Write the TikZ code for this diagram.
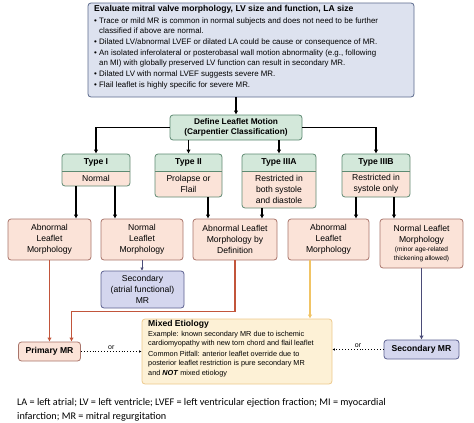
\documentclass[tikz,border=0pt]{standalone}
\usepackage{fontspec}
\usepackage{xcolor}
\usepackage{tikz}
\setmainfont{Liberation Sans}
\newfontfamily\footfont{Carlito}
\usetikzlibrary{arrows.meta}

\definecolor{evalfill}{HTML}{DDE2EF}
\definecolor{evalline}{HTML}{5B6A8C}
\definecolor{greenfill}{HTML}{D3E8DA}
\definecolor{greenline}{HTML}{5E8A72}
\definecolor{pinkfill}{HTML}{FBE3D8}
\definecolor{pinkline}{HTML}{A8746A}
\definecolor{lavfill}{HTML}{D4D6EE}
\definecolor{lavline}{HTML}{5C6090}
\definecolor{mixfill}{HTML}{FDF1D6}
\definecolor{mixline}{HTML}{EDC98C}
\definecolor{redline}{HTML}{C2553B}
\definecolor{goldline}{HTML}{F1C465}
\definecolor{navyline}{HTML}{4B4C78}

\tikzset{
  box/.style={rounded corners=3pt, line width=0.8pt, inner sep=0pt, align=center},
  evalbox/.style={box, draw=evalline, fill=evalfill},
  motionbox/.style={box, draw=greenline, fill=greenfill},
  typebox/.style={box, draw=greenline, fill=pinkfill,
    path picture={
      \fill[greenfill] (path picture bounding box.north west) rectangle ([yshift=-17pt]path picture bounding box.north east);
      \draw[greenline, line width=0.8pt] ([yshift=-17pt]path picture bounding box.north west) -- ([yshift=-17pt]path picture bounding box.north east);
    }},
  typehead/.style={inner sep=0pt, font=\bfseries\fontsize{8.6}{11}\selectfont},
  typebody/.style={inner sep=0pt, align=center},
  morphbox/.style={box, draw=pinkline, fill=pinkfill},
  secbox/.style={box, draw=lavline, fill=lavfill},
  mixbox/.style={box, draw=mixline, fill=mixfill},
  blk/.style={line width=1.6pt, -{Latex[length=4pt, width=4.5pt]}},
  redarr/.style={draw=redline, line width=1.6pt, -{Latex[length=4pt, width=4.5pt]}},
  goldarr/.style={draw=goldline, line width=1.6pt, -{Latex[length=4pt, width=4.5pt]}},
  navyarr/.style={draw=navyline, line width=1.6pt, -{Latex[length=4pt, width=4.5pt]}},
  navythin/.style={draw=navyline, line width=0.8pt, -{Latex[length=3pt, width=3.5pt]}},
  orarr/.style={dotted, line width=0.9pt, -{Latex[length=2.5pt, width=2.5pt]}},
  orlabel/.style={above, inner sep=1.5pt, font=\fontsize{7}{8}\selectfont}
}

\begin{document}
\begin{tikzpicture}[x=1pt, y=-1pt, font=\fontsize{8.6}{11}\selectfont]
\useasboundingbox (0,0) rectangle (474,423);

\node[evalbox, minimum width=326pt, minimum height=94pt] (eval) at (251,50) {};
\node[anchor=north west, inner sep=0pt, align=left, font=\fontsize{7.9}{9.8}\selectfont] (evaltext) at (94,5.5) {%
{\bfseries\fontsize{8.6}{10}\selectfont Evaluate mitral valve morphology, LV size and function, LA size}\\[2pt]
• Trace or mild MR is common in normal subjects and does not need to be further\\
\phantom{• }classified if above are normal.\\[1.2pt]
• Dilated LV/abnormal LVEF or dilated LA could be cause or consequence of MR.\\[1.2pt]
• An isolated inferolateral or posterobasal wall motion abnormality (e.g., following\\
\phantom{• }an MI) with globally preserved LV function can result in secondary MR.\\[1.2pt]
• Dilated LV with normal LVEF suggests severe MR.\\[1.2pt]
• Flail leaflet is highly specific for severe MR.};

\node[motionbox, minimum width=132pt, minimum height=25pt, font=\bfseries\fontsize{8.3}{10}\selectfont] (motion) at (236,127.5) {Define Leaflet Motion\\(Carpentier Classification)};

\node[typebox, minimum width=68pt, minimum height=32pt] (t1) at (96,170) {};
\node[typehead] (t1h) at (96,162.5) {Type I};
\node[typebody] (t1b) at (96,178.5) {Normal};
\node[typebox, minimum width=67pt, minimum height=43pt] (t2) at (188.5,175.5) {};
\node[typehead] (t2h) at (188.5,162.5) {Type II};
\node[typebody] (t2b) at (188.5,184) {Prolapse or\\Flail};
\node[typebox, minimum width=74pt, minimum height=54pt] (t3) at (279,181) {};
\node[typehead] (t3h) at (279,162.5) {Type IIIA};
\node[typebody] (t3b) at (279,189.5) {Restricted in\\both systole\\and diastole};
\node[typebox, minimum width=68pt, minimum height=43pt] (t4) at (376,175.5) {};
\node[typehead] (t4h) at (376,162.5) {Type IIIB};
\node[typebody] (t4b) at (376,184) {Restricted in\\systole only};

\node[morphbox, minimum width=83pt, minimum height=41pt] (m1) at (49.5,239.5) {Abnormal\\Leaflet\\Morphology};
\node[morphbox, minimum width=82pt, minimum height=41pt] (m2) at (142,239.5) {Normal\\Leaflet\\Morphology};
\node[morphbox, minimum width=84pt, minimum height=41pt] (m3) at (235,239.5) {Abnormal Leaflet\\Morphology by\\Definition};
\node[morphbox, minimum width=81pt, minimum height=41pt] (m4) at (328.5,239.5) {Abnormal\\Leaflet\\Morphology};
\node[morphbox, minimum width=83pt, minimum height=49pt] (m5) at (421.5,243.5) {Normal Leaflet\\Morphology\\[-2pt]{\fontsize{6.5}{8}\selectfont (minor age-related}\\[-2pt]{\fontsize{6.5}{8}\selectfont thickening allowed)}};

\node[secbox, minimum width=83pt, minimum height=37pt] (atrial) at (142.5,289.5) {Secondary\\(atrial functional)\\MR};

\node[morphbox, minimum width=62pt, minimum height=19pt, font=\bfseries\fontsize{8.6}{10}\selectfont] (primary) at (49.5,351.5) {Primary MR};
\node[secbox, minimum width=75pt, minimum height=19pt, font=\bfseries\fontsize{8.6}{10}\selectfont] (secondary) at (421.5,349.5) {Secondary MR};

\node[mixbox, minimum width=190pt, minimum height=65pt] (mixed) at (237,351.5) {};
\node[anchor=north west, inner sep=0pt, align=left, font=\fontsize{7.3}{9.6}\selectfont] (mixtext) at (148,320) {%
{\bfseries\fontsize{8.6}{10}\selectfont Mixed Etiology}\\
Example: known secondary MR due to ischemic\\
cardiomyopathy with new torn chord and flail leaflet\\[1pt]
Common Pitfall: anterior leaflet override due to\\
posterior leaflet restriction is pure secondary MR\\
and \textbf{\textit{NOT}} mixed etiology};

\draw[blk] (eval.south -| motion.north) -- (motion.north);
\draw[blk] (motion.west) -| (t1.north);
\draw[blk] (motion.east) -| (t4.north);
\draw[blk] (motion.south -| t2.north) -- (t2.north);
\draw[blk] (motion.south -| t3.north) -- (t3.north);

\draw[blk] ([xshift=-20pt]t1.south) -- ([xshift=-20pt]t1.south |- m1.north);
\draw[blk] ([xshift=19pt]t1.south) -- ([xshift=19pt]t1.south |- m2.north);
\draw[blk] ([xshift=19.5pt]t2.south) -- ([xshift=19.5pt]t2.south |- m3.north);
\draw[blk] ([xshift=-17pt]t3.south) -- ([xshift=-17pt]t3.south |- m3.north);
\draw[blk] ([xshift=-20pt]t4.south) -- ([xshift=-20pt]t4.south |- m4.north);
\draw[blk] ([xshift=18pt]t4.south) -- ([xshift=18pt]t4.south |- m5.north);

\draw[navythin] (m2.south) -- (m2.south |- atrial.north);
\draw[redarr] (m1.south) -- (primary.north);
\draw[redarr] (m3.south) -- ++(0,51) -| ([xshift=22pt]primary.north);
\draw[goldarr] ([xshift=-18.5pt]m4.south) -- ([xshift=-18.5pt]m4.south |- mixed.north);
\draw[navyarr] (m5.south) -- (secondary.north);

\draw[orarr] (primary.east) -- (mixed.west) node[orlabel, midway] {or};
\draw[orarr] (secondary.west) -- (secondary.west -| mixed.east) node[orlabel, midway] {or};

\node[anchor=west, inner sep=0pt, align=left, font=\footfont\fontsize{10.2}{14}\selectfont] (note) at (17,410) {LA = left atrial; LV = left ventricle; LVEF = left ventricular ejection fraction; MI = myocardial\\infarction; MR = mitral regurgitation};
\end{tikzpicture}
\end{document}
